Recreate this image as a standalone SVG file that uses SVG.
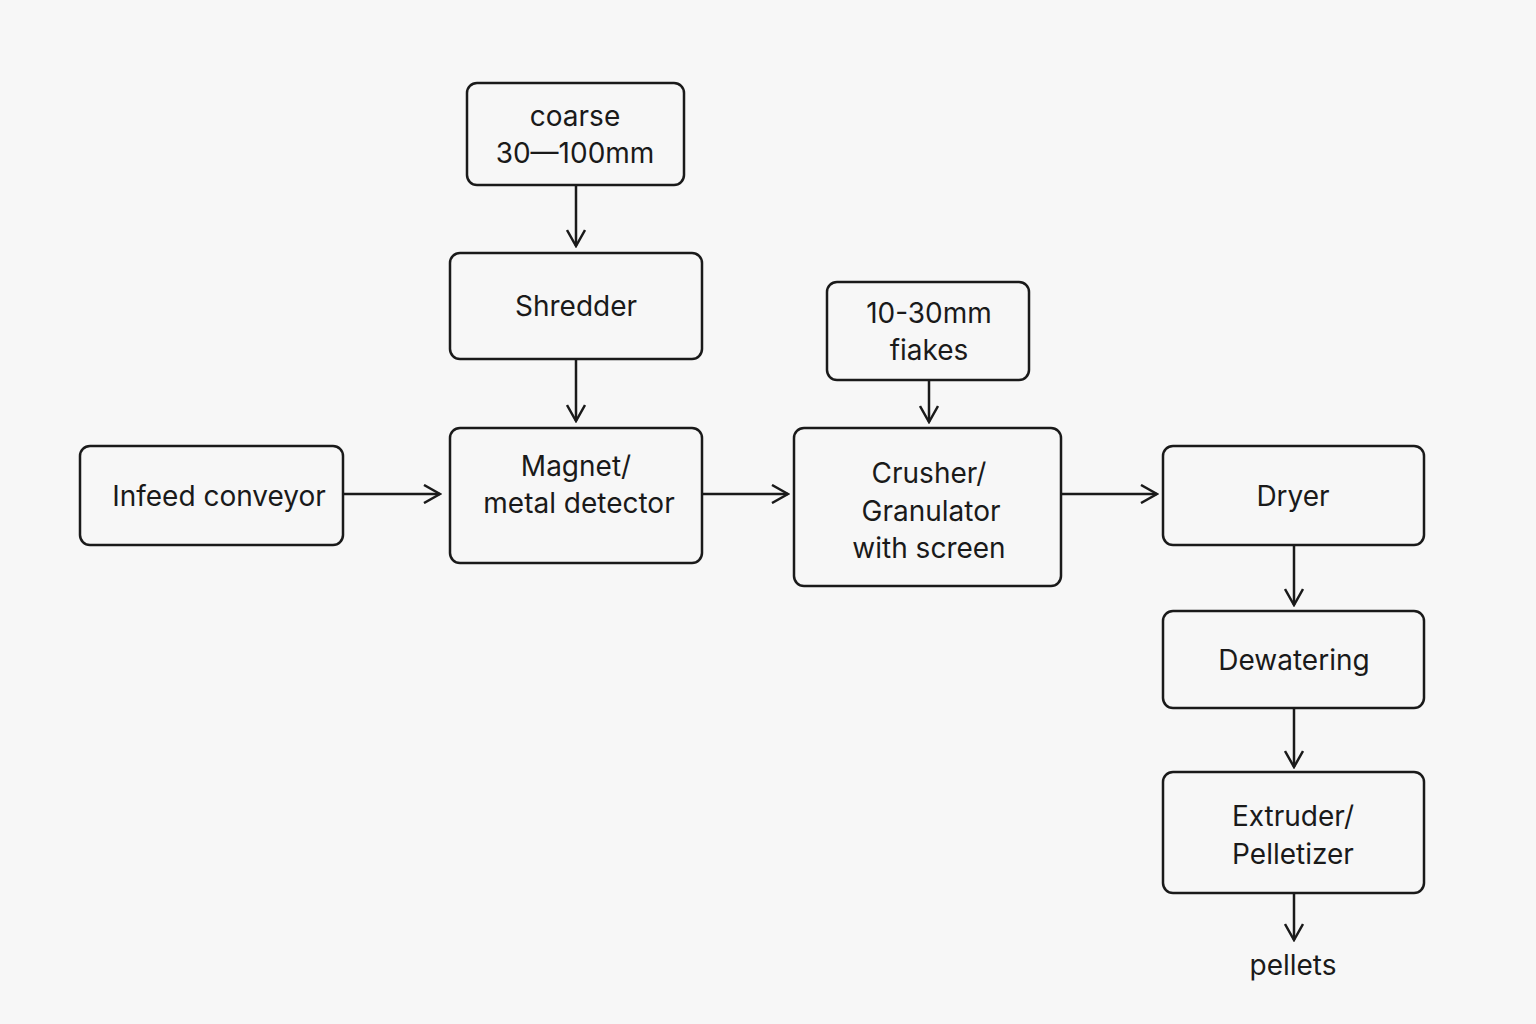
<svg xmlns="http://www.w3.org/2000/svg" width="1536" height="1024" viewBox="0 0 1536 1024">
<style>
.b{fill:#f7f7f7;stroke:#1a1a1a;stroke-width:2.5}
.t{font-family:Inter,"Noto Sans",sans-serif;font-size:28px;fill:#1a1a1a;text-anchor:middle}
.c{stroke:#1a1a1a;stroke-width:2.5;fill:none}
</style>
<defs><marker id="a" viewBox="0 0 20 20" refX="18" refY="10" markerWidth="20" markerHeight="20" markerUnits="userSpaceOnUse" orient="auto"><path d="M2 1 L18 10 L2 19" fill="none" stroke="#1a1a1a" stroke-width="2.5"/></marker></defs>
<rect width="1536" height="1024" fill="#f7f7f7"/>
<g id="coarse"><rect class="b" x="467" y="83" width="217" height="102" rx="10"/><text class="t" x="575" y="126">coarse</text><text class="t" x="575" y="163">30—100mm</text></g>
<g id="shredder"><rect class="b" x="450" y="253" width="252" height="106" rx="10"/><text class="t" x="576" y="316">Shredder</text></g>
<g id="magnet"><rect class="b" x="450" y="428" width="252" height="135" rx="10"/><text class="t" x="576" y="476">Magnet/</text><text class="t" x="579" y="513">metal detector</text></g>
<g id="infeed"><rect class="b" x="80" y="446" width="263" height="99" rx="10"/><text class="t" x="219" y="506">Infeed conveyor</text></g>
<g id="flakes"><rect class="b" x="827" y="282" width="202" height="98" rx="10"/><text class="t" x="929" y="323">10-30mm</text><text class="t" x="929" y="360">fiakes</text></g>
<g id="crusher"><rect class="b" x="794" y="428" width="267" height="158" rx="10"/><text class="t" x="929" y="483">Crusher/</text><text class="t" x="931" y="521">Granulator</text><text class="t" x="929" y="558">with screen</text></g>
<g id="dryer"><rect class="b" x="1163" y="446" width="261" height="99" rx="10"/><text class="t" x="1293" y="506">Dryer</text></g>
<g id="dewatering"><rect class="b" x="1163" y="611" width="261" height="97" rx="10"/><text class="t" x="1294" y="670">Dewatering</text></g>
<g id="extruder"><rect class="b" x="1163" y="772" width="261" height="121" rx="10"/><text class="t" x="1293" y="826">Extruder/</text><text class="t" x="1293" y="864">Pelletizer</text></g>
<g id="pellets"><text class="t" x="1293" y="975">pellets</text></g>
<g id="connectors">
<path class="c" d="M576 185V246" marker-end="url(#a)"/>
<path class="c" d="M576 359V421" marker-end="url(#a)"/>
<path class="c" d="M343 494H440" marker-end="url(#a)"/>
<path class="c" d="M702 494H788" marker-end="url(#a)"/>
<path class="c" d="M929 380V422" marker-end="url(#a)"/>
<path class="c" d="M1061 494H1157" marker-end="url(#a)"/>
<path class="c" d="M1294 545V605" marker-end="url(#a)"/>
<path class="c" d="M1294 708V767" marker-end="url(#a)"/>
<path class="c" d="M1294 893V940" marker-end="url(#a)"/>
</g>
</svg>
